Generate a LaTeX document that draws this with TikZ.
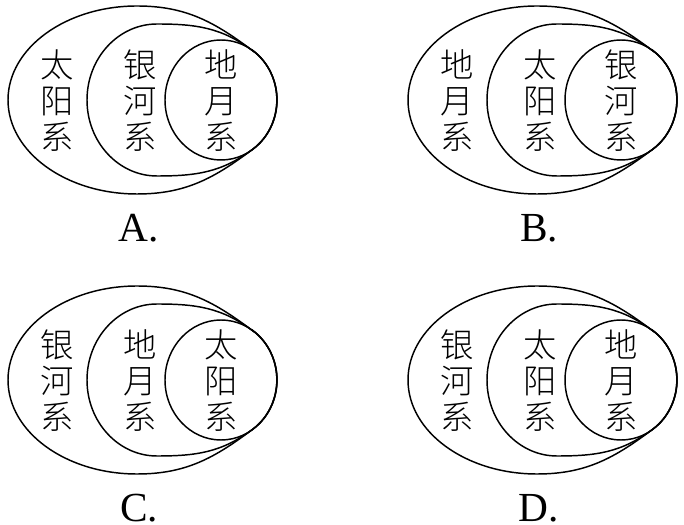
\documentclass[tikz,border=0pt]{standalone}
\usepackage{fontspec}
\newfontfamily\cjk{Noto Sans CJK SC Light}
\newfontfamily\tagfont{Liberation Serif}
\usetikzlibrary{positioning}
\tikzset{
  ring/.style = {draw, line width=1.1pt},
  word/.style = {font=\cjk\fontsize{25}{27}\selectfont, align=center, inner sep=0pt},
  tag/.style  = {font=\tagfont\fontsize{31}{31}\selectfont, inner sep=0pt}
}

\begin{document}
\begin{tikzpicture}[x=0.75pt, y=0.75pt]
\useasboundingbox (0,0) rectangle (684,524);

\foreach \cx/\cy/\big/\mid/\small/\lab/\id in {
    221/424/太\\阳\\系/银\\河\\系/地\\月\\系/A./a,
    621/424/地\\月\\系/太\\阳\\系/银\\河\\系/B./b,
    221/144/银\\河\\系/地\\月\\系/太\\阳\\系/C./c,
    621/144/银\\河\\系/太\\阳\\系/地\\月\\系/D./d} {
  \begin{scope}[shift={(\cx,\cy)}]
    % outer egg
    \draw[ring] (32,49) to[out=143, in=0] (-84,94)
      arc[start angle=90, end angle=270, x radius=129, y radius=94]
      to[out=0, in=217] (32,-49)
      arc[start angle=-55, end angle=55, x radius=56, y radius=60] -- cycle;
    % middle egg
    \draw[ring] (32,49) to[out=143, in=0] (-64,76)
      arc[start angle=90, end angle=270, x radius=70, y radius=76]
      to[out=0, in=217] (32,-49)
      arc[start angle=-55, end angle=55, x radius=56, y radius=60] -- cycle;
    % inner circle
    \draw[ring] (0,0) ellipse[x radius=56, y radius=60];

    \node[word] at (-164,-1) (big\id)   {\big};
    \node[word] at ( -81,-1) (mid\id)   {\mid};
    \node[word] at (   0,-1) (small\id) {\small};
    \node[tag]  at ( -82,-128) (tag\id) {\lab};
  \end{scope}
}
\end{tikzpicture}
\end{document}
